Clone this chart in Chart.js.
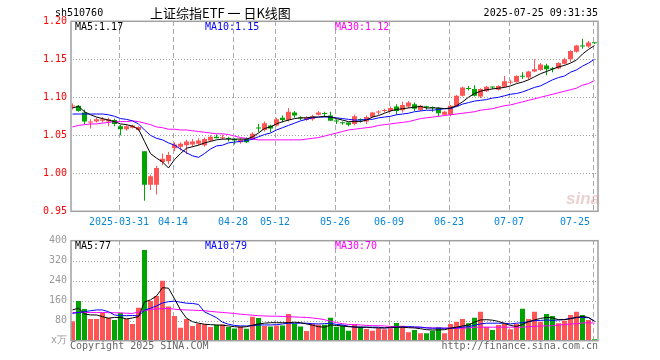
<!DOCTYPE html>
<html>
<head>
<meta charset="utf-8">
<script src="https://cdn.jsdelivr.net/npm/chart.js@4.4.1/dist/chart.umd.min.js"></script>
<style>
body{margin:0;background:#fff;width:660px;height:360px;position:relative;overflow:hidden;font-family:"DejaVu Sans Mono",monospace;font-size:10px}
canvas{position:absolute;left:0}
#price{top:0}
#vol{top:235px}
.t{position:absolute;white-space:pre;line-height:12px}
</style>
</head>
<body>
<canvas id="price" width="660" height="235"></canvas>
<canvas id="vol" width="660" height="125"></canvas>
<div id="app"></div>
<script>
const app = document.getElementById("app")

const dates = [
  '2025-03-19','2025-03-20','2025-03-21','2025-03-24','2025-03-25','2025-03-26','2025-03-27','2025-03-28',
  '2025-03-31','2025-04-01','2025-04-02','2025-04-03','2025-04-07','2025-04-08','2025-04-09','2025-04-10',
  '2025-04-11','2025-04-14','2025-04-15','2025-04-16','2025-04-17','2025-04-18','2025-04-21','2025-04-22',
  '2025-04-23','2025-04-24','2025-04-25','2025-04-28','2025-04-29','2025-04-30','2025-05-06','2025-05-07',
  '2025-05-08','2025-05-09','2025-05-12','2025-05-13','2025-05-14','2025-05-15','2025-05-16','2025-05-19',
  '2025-05-20','2025-05-21','2025-05-22','2025-05-23','2025-05-26','2025-05-27','2025-05-28','2025-05-29',
  '2025-05-30','2025-06-03','2025-06-04','2025-06-05','2025-06-06','2025-06-09','2025-06-10','2025-06-11',
  '2025-06-12','2025-06-13','2025-06-16','2025-06-17','2025-06-18','2025-06-19','2025-06-20','2025-06-23',
  '2025-06-24','2025-06-25','2025-06-26','2025-06-27','2025-06-30','2025-07-01','2025-07-02','2025-07-03',
  '2025-07-04','2025-07-07','2025-07-08','2025-07-09','2025-07-10','2025-07-11','2025-07-14','2025-07-15',
  '2025-07-16','2025-07-17','2025-07-18','2025-07-21','2025-07-22','2025-07-23','2025-07-24','2025-07-25'
]

const openP = [
  1.088,1.089,1.080,1.067,1.068,1.069,1.068,1.070,1.062,1.058,
  1.060,1.057,1.029,0.985,0.985,1.015,1.016,1.033,1.035,1.037,
  1.038,1.039,1.037,1.043,1.048,1.046,1.046,1.045,1.041,1.045,
  1.045,1.060,1.057,1.063,1.063,1.073,1.070,1.080,1.073,1.070,
  1.071,1.077,1.079,1.076,1.069,1.067,1.067,1.065,1.071,1.068,
  1.074,1.080,1.082,1.082,1.088,1.083,1.088,1.091,1.083,1.088,
  1.087,1.086,1.077,1.077,1.088,1.102,1.112,1.111,1.101,1.108,
  1.114,1.110,1.114,1.119,1.120,1.128,1.126,1.134,1.136,1.142,
  1.138,1.138,1.144,1.150,1.160,1.168,1.167,1.172
]
const highP = [
  1.092,1.090,1.084,1.071,1.073,1.074,1.073,1.072,1.064,1.064,
  1.064,1.062,1.029,0.998,1.010,1.026,1.028,1.041,1.041,1.044,
  1.045,1.046,1.047,1.050,1.051,1.051,1.048,1.046,1.046,1.047,
  1.054,1.065,1.068,1.064,1.073,1.076,1.086,1.082,1.075,1.075,
  1.077,1.082,1.081,1.081,1.071,1.068,1.067,1.077,1.072,1.076,
  1.081,1.083,1.085,1.088,1.091,1.094,1.095,1.093,1.090,1.089,
  1.088,1.087,1.082,1.090,1.103,1.114,1.115,1.116,1.112,1.115,
  1.114,1.116,1.128,1.123,1.129,1.133,1.135,1.150,1.145,1.144,
  1.140,1.146,1.152,1.162,1.169,1.177,1.174,1.172
]
const lowP = [
  1.084,1.081,1.065,1.059,1.067,1.067,1.062,1.062,1.050,1.056,
  1.059,1.056,0.964,0.978,0.972,1.011,1.012,1.029,1.030,1.025,
  1.035,1.037,1.035,1.042,1.046,1.044,1.042,1.038,1.039,1.040,
  1.044,1.054,1.055,1.054,1.062,1.067,1.068,1.073,1.070,1.069,
  1.069,1.076,1.074,1.069,1.065,1.064,1.062,1.063,1.067,1.065,
  1.073,1.077,1.080,1.081,1.077,1.080,1.086,1.082,1.082,1.084,
  1.081,1.075,1.076,1.075,1.087,1.101,1.109,1.101,1.099,1.107,
  1.111,1.109,1.113,1.117,1.119,1.124,1.123,1.133,1.135,1.129,
  1.133,1.137,1.143,1.146,1.159,1.164,1.165,1.170
]
const closeP = [
  1.089,1.082,1.068,1.068,1.071,1.071,1.071,1.065,1.058,1.062,
  1.063,1.061,0.985,0.996,1.007,1.019,1.024,1.038,1.039,1.042,
  1.042,1.043,1.045,1.048,1.046,1.047,1.045,1.043,1.044,1.041,
  1.052,1.059,1.066,1.059,1.071,1.070,1.081,1.076,1.072,1.073,
  1.075,1.080,1.078,1.069,1.068,1.066,1.064,1.075,1.070,1.074,
  1.080,1.081,1.083,1.086,1.082,1.090,1.093,1.085,1.089,1.087,
  1.086,1.079,1.081,1.089,1.102,1.113,1.111,1.102,1.111,1.114,
  1.113,1.115,1.121,1.120,1.128,1.127,1.134,1.137,1.143,1.137,
  1.137,1.145,1.150,1.161,1.168,1.167,1.172,1.171
]
const ma5 = [
  1.086,1.088,1.081,1.077,1.074,1.072,1.070,1.068,1.065,1.064,
  1.062,1.058,1.042,1.026,1.020,1.015,1.007,1.018,1.026,1.033,
  1.035,1.037,1.040,1.042,1.044,1.045,1.045,1.045,1.045,1.045,
  1.048,1.053,1.059,1.061,1.065,1.068,1.070,1.072,1.073,1.073,
  1.074,1.074,1.075,1.074,1.072,1.070,1.068,1.068,1.068,1.070,
  1.074,1.076,1.079,1.082,1.084,1.085,1.086,1.087,1.088,1.086,
  1.086,1.086,1.085,1.086,1.089,1.094,1.100,1.105,1.108,1.110,
  1.111,1.112,1.113,1.115,1.118,1.120,1.123,1.127,1.131,1.134,
  1.137,1.140,1.142,1.145,1.149,1.157,1.163,1.168
]
const ma10 = [
  1.078,1.078,1.078,1.078,1.078,1.078,1.077,1.075,1.072,1.071,
  1.069,1.065,1.057,1.050,1.046,1.044,1.040,1.037,1.032,1.027,
  1.023,1.021,1.026,1.032,1.036,1.037,1.040,1.041,1.042,1.043,
  1.045,1.048,1.051,1.053,1.057,1.060,1.063,1.066,1.069,1.071,
  1.073,1.074,1.074,1.074,1.073,1.072,1.071,1.070,1.070,1.071,
  1.071,1.073,1.074,1.075,1.077,1.078,1.079,1.081,1.082,1.083,
  1.083,1.084,1.085,1.085,1.088,1.091,1.093,1.095,1.096,1.097,
  1.099,1.100,1.102,1.104,1.105,1.107,1.110,1.113,1.115,1.119,
  1.123,1.126,1.128,1.133,1.136,1.141,1.145,1.150
]
const ma30 = [
  1.061,1.063,1.064,1.065,1.065,1.066,1.067,1.068,1.068,1.068,
  1.069,1.068,1.066,1.064,1.061,1.060,1.058,1.058,1.057,1.057,
  1.056,1.055,1.054,1.053,1.052,1.052,1.051,1.049,1.047,1.046,
  1.045,1.044,1.044,1.044,1.044,1.044,1.044,1.044,1.044,1.045,
  1.046,1.047,1.049,1.051,1.053,1.055,1.057,1.058,1.059,1.060,
  1.061,1.063,1.064,1.065,1.066,1.067,1.068,1.070,1.072,1.073,
  1.074,1.075,1.076,1.077,1.078,1.079,1.080,1.081,1.083,1.084,
  1.085,1.087,1.089,1.090,1.092,1.094,1.096,1.098,1.100,1.102,
  1.104,1.106,1.108,1.110,1.112,1.116,1.118,1.122
]
// volume in 万
const volume = [
  78,159,127,87,87,112,92,83,112,87,
  67,132,363,159,179,240,137,99,52,87,
  59,68,66,55,63,65,55,49,57,48,
  96,91,59,57,61,61,107,69,57,39,
  67,64,64,92,56,60,40,67,56,47,
  40,50,46,50,71,60,34,43,30,30,
  40,54,30,67,76,87,70,92,116,56,
  43,63,67,46,67,128,87,116,76,107,
  99,70,80,103,116,103,83,6
]
const vma5 = [
  123,130,107,103,103,96,90,93,93,87,
  91,96,155,163,179,212,210,168,123,90,
  76,70,66,64,63,62,59,56,54,56,
  62,67,70,72,72,72,72,74,72,67,
  62,56,54,63,61,59,56,55,54,54,
  52,51,51,54,54,54,52,51,48,44,
  43,43,44,50,54,59,63,74,83,84,
  82,77,69,61,57,65,76,83,89,93,
  91,84,84,88,93,97,93,77
]
const vma10 = [
  109,113,116,120,123,123,116,103,100,100,
  101,99,122,130,139,151,156,158,154,150,
  149,145,115,104,92,74,66,61,59,59,
  60,63,63,63,64,67,70,70,70,70,
  68,67,68,70,65,63,58,54,54,54,
  54,54,51,52,54,55,56,55,54,51,
  50,50,50,50,51,54,56,62,67,70,
  70,70,70,67,70,72,76,80,81,83,
  81,83,85,89,93,93,92,79
]
const vma30 = [
  113,113,113,113,113,113,112,112,111,110,
  109,115,120,125,127,128,129,126,124,123,
  122,121,120,117,115,113,111,109,106,104,
  102,100,99,98,98,97,96,95,94,93,
  91,88,84,78,72,68,65,64,63,61,
  60,60,59,57,56,56,55,54,54,52,
  51,51,50,50,50,50,51,54,54,54,
  54,54,54,54,54,54,56,57,59,59,
  60,63,64,67,68,71,72,70
]

const tickDates = ['2025-03-31','2025-04-14','2025-04-28','2025-05-12','2025-05-26','2025-06-09','2025-06-23','2025-07-07','2025-07-25']
const tickText = ['2025-03-31','04-14','04-28','05-12','05-26','06-09','06-23','07-07','07-25']
const priceTicks = [0.95, 1.00, 1.05, 1.10, 1.15, 1.20]
const volTicks = [0, 80, 160, 240, 320, 400]

const UP = '#ff5555'
const DOWN = '#00a400'
const mono = {family: 'DejaVu Sans Mono', size: 10}
const tickIdx = tickDates.map(d => dates.indexOf(d))

function isUp(i){
    return closeP[i] >= openP[i]
}

function pts(arr){
    return arr.map((v, i) => ({x: i, y: v}))
}

function maLine(arr, color){
    return {type: 'line', data: pts(arr), borderColor: color, borderWidth: 1,
        pointRadius: 0, tension: 0, order: 0}
}

function pixelOf(scale, v, from, to){
    var p = scale.getPixelForValue(v)
    if (!isFinite(p)) p = from + (v - scale.min) / (scale.max - scale.min) * (to - from)
    return Math.round(p)
}

// dashed / dotted grid, painted only where nothing else is drawn yet
function gridLines(chart, yTicks){
    const a = chart.chartArea
    const c = chart.ctx
    const xs = chart.scales.x
    const ys = chart.scales.y
    const x0 = Math.floor(a.left), y0 = Math.floor(a.top)
    const w = Math.ceil(a.right) - x0, h = Math.ceil(a.bottom) - y0
    var d = null
    try { d = c.getImageData(x0, y0, w, h).data } catch (e) { d = null }
    function dot(x, y, col){
        if (d){
            const k = ((y - y0) * w + (x - x0)) * 4
            if (d[k + 3] > 60 && (d[k] < 235 || d[k + 1] < 235 || d[k + 2] < 235)) return
        }
        c.fillStyle = col
        c.fillRect(x, y, 1, 1)
    }
    c.save()
    tickIdx.forEach(i => {
        const px = pixelOf(xs, i - 0.25, a.left, a.right)
        for (let y = y0 + 1; y < y0 + h; y++){
            if ((y - y0) % 8 < 5) dot(px, y, '#aaaaaa')
        }
    })
    yTicks.slice(1, -1).forEach(v => {
        const py = pixelOf(ys, v, a.bottom, a.top)
        for (let x = x0 + 2; x < x0 + w; x += 3) dot(x, py, '#a0a0a0')
    })
    c.restore()
}

function framePlugin(yTicks){
    return {
        id: 'frame',
        afterDraw(chart){
            gridLines(chart, yTicks)
            const a = chart.chartArea
            const c = chart.ctx
            c.save()
            c.strokeStyle = '#a0a0a0'
            c.lineWidth = 1.5
            c.strokeRect(a.left, a.top, a.right - a.left, a.bottom - a.top)
            c.restore()
        }
    }
}

function xAxis(height, labels){
    return {
        type: 'linear', bounds: 'data', offset: false, min: -0.25, max: dates.length - 0.417,
        afterBuildTicks: s => { s.ticks = tickIdx.map(v => ({value: v - 0.25})) },
        afterFit: s => { s.height = height; s.paddingLeft = 0; s.paddingRight = 0 },
        grid: {display: false, drawTicks: false, offset: false},
        border: {display: false},
        ticks: {display: labels, autoSkip: false, maxRotation: 0, padding: 5, color: '#0a87d6', font: mono,
            callback: (v, i) => i === tickText.length - 1 ? tickText[i] + '      ' : tickText[i]}
    }
}

function yAxis(min, max, ticks, color, fmt){
    return {
        min: min, max: max,
        afterBuildTicks: s => { s.ticks = ticks.map(v => ({value: v})) },
        afterFit: s => { s.width = 71; s.paddingTop = 0; s.paddingBottom = 0 },
        grid: {display: false, drawTicks: false},
        border: {display: false},
        ticks: {color: color, padding: 4, font: mono, callback: fmt}
    }
}

const baseOpts = {
    responsive: false, animation: false,
    plugins: {legend: {display: false}, tooltip: {enabled: false}}
}

function createPrice(){
    const idx = dates.map((d, i) => i)
    new Chart(document.getElementById('price'), {
        type: 'bar',
        data: {datasets: [
            maLine(ma5, '#000000'),
            maLine(ma10, '#0000ff'),
            maLine(ma30, '#ff00ff'),
            {data: idx.map(i => ({x: i, y: [openP[i], closeP[i]]})), backgroundColor: idx.map(i => isUp(i) ? UP : DOWN),
                barThickness: 5, minBarLength: 1, grouped: false, inflateAmount: 0, order: 1},
            {data: idx.map(i => ({x: i, y: [lowP[i], highP[i]]})), backgroundColor: idx.map(i => isUp(i) ? UP : DOWN),
                barThickness: 1, grouped: false, inflateAmount: 0, order: 2}
        ]},
        options: Object.assign({}, baseOpts, {
            layout: {padding: {left: 0, right: 62, top: 21.3, bottom: 0}},
            scales: {
                x: xAxis(23.7, true),
                y: yAxis(0.95, 1.20, priceTicks, '#ff0000', v => v.toFixed(2))
            }
        }),
        plugins: [framePlugin(priceTicks)]
    })
}

function createVolume(){
    const idx = dates.map((d, i) => i)
    new Chart(document.getElementById('vol'), {
        type: 'bar',
        data: {datasets: [
            maLine(vma5, '#000000'),
            maLine(vma10, '#0000ff'),
            maLine(vma30, '#ff00ff'),
            {data: idx.map(i => ({x: i, y: volume[i]})), backgroundColor: idx.map(i => isUp(i) ? UP : DOWN),
                barThickness: 5, grouped: false, inflateAmount: 0, order: 1}
        ]},
        options: Object.assign({}, baseOpts, {
            layout: {padding: {left: 0, right: 62, top: 5.7, bottom: 0}},
            scales: {
                x: xAxis(19.3, false),
                y: yAxis(0, 400, volTicks, '#999999', v => v === 0 ? 'x万' : String(v))
            }
        }),
        plugins: [framePlugin(volTicks)]
    })
}

function addText(txt, style){
    var d = document.createElement('div')
    d.className = 't'
    d.textContent = txt
    d.style.cssText = style
    app.appendChild(d)
}

function createTexts(){
    const n = dates.length - 1
    addText('sh510760', 'left:55px;top:7px')
    addText('上证综指ETF 一 日K线图', 'left:150px;top:4px;font:13px "Noto Sans CJK SC";line-height:18px')
    addText(dates[n] + ' 09:31:35', 'right:62px;top:7px')
    addText('MA5:' + ma5[n].toFixed(2), 'left:75px;top:21px;color:#000')
    addText('MA10:' + ma10[n].toFixed(2), 'left:205px;top:21px;color:#0000ff')
    addText('MA30:' + ma30[n].toFixed(2), 'left:335px;top:21px;color:#ff00ff')
    addText('MA5:' + vma5[n], 'left:75px;top:240px;color:#000')
    addText('MA10:' + vma10[n], 'left:205px;top:240px;color:#0000ff')
    addText('MA30:' + vma30[n], 'left:335px;top:240px;color:#ff00ff')
    addText('Copyright 2025 SINA.COM', 'left:70px;top:340px;color:#666')
    addText('http://finance.sina.com.cn', 'right:62px;top:340px;color:#666')
    addText('sina', 'left:566px;top:190px;font:italic bold 17px "Liberation Sans";line-height:18px;color:rgba(210,150,150,0.45)')
}

function main(){
    createPrice()
    createVolume()
    createTexts()
}

main()
</script>
</body>
</html>
